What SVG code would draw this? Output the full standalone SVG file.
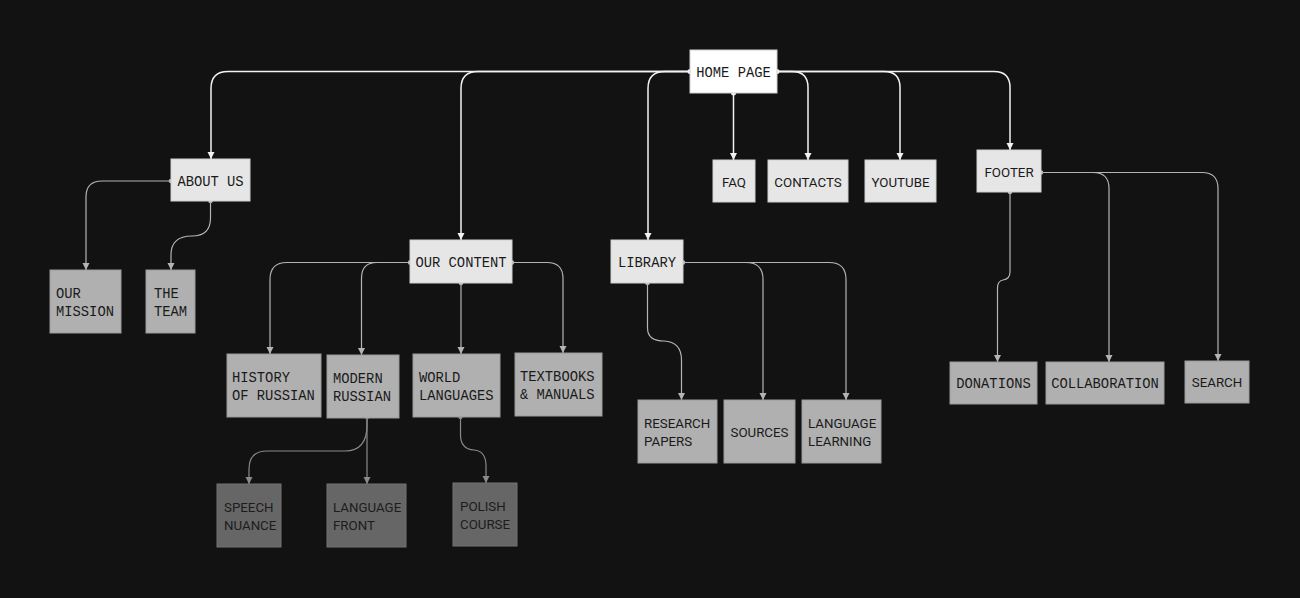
<svg xmlns="http://www.w3.org/2000/svg" width="1300" height="598" viewBox="0 0 1300 598">
<defs>
<marker id="aw" markerUnits="userSpaceOnUse" markerWidth="10" markerHeight="10" viewBox="-1 -5 10 10" refX="7" refY="0" orient="auto"><path d="M0,-3.5 L7,0 L0,3.5 z" fill="#f2f2f2"/></marker>
<marker id="ag" markerUnits="userSpaceOnUse" markerWidth="10" markerHeight="10" viewBox="-1 -5 10 10" refX="7" refY="0" orient="auto"><path d="M0,-3.5 L7,0 L0,3.5 z" fill="#b4b4b4"/></marker>
<marker id="ad" markerUnits="userSpaceOnUse" markerWidth="10" markerHeight="10" viewBox="-1 -5 10 10" refX="7" refY="0" orient="auto"><path d="M0,-3.5 L7,0 L0,3.5 z" fill="#8a8a8a"/></marker>
</defs>
<style>
.l0{fill:#ffffff;stroke:#d0d0d0;stroke-width:1}
.l1{fill:#e6e6e6;stroke:#cfcfcf;stroke-width:1}
.l2{fill:#b0b0b0;stroke:#9a9a9a;stroke-width:1}
.l3{fill:#666666;stroke:#737373;stroke-width:1}
.m{font-family:"Liberation Mono","DejaVu Sans Mono",monospace;font-size:13.8px;fill:#1a1a1a}
.s{font-family:Roboto,"Liberation Sans",Arial,sans-serif;font-size:13.3px;fill:#1a1a1a}
.d{fill:#1c1c1c}
.c{text-anchor:middle}
.cw{fill:none;stroke:#f2f2f2;stroke-width:1.5}
.cg{fill:none;stroke:#b4b4b4;stroke-width:1.2}
.cd{fill:none;stroke:#8a8a8a;stroke-width:1.2}
</style>
<rect width="1300" height="598" fill="#121212"/>
<g id="connectors">
<path class="cw" d="M690,71.5 H228 Q211,71.5 211,88.5 V159" marker-end="url(#aw)"/>
<path class="cw" d="M690,71.5 H478 Q461,71.5 461,88.5 V240" marker-end="url(#aw)"/>
<path class="cw" d="M690,71.5 H665 Q648,71.5 648,88.5 V240" marker-end="url(#aw)"/>
<path class="cw" d="M777,71.5 H792 Q808,71.5 808,87.5 V160" marker-end="url(#aw)"/>
<path class="cw" d="M777,71.5 H884 Q900,71.5 900,87.5 V160" marker-end="url(#aw)"/>
<path class="cw" d="M777,71.5 H994 Q1010,71.5 1010,87.5 V150" marker-end="url(#aw)"/>
<path class="cw" d="M733.5,93 V160" marker-end="url(#aw)"/>
<circle cx="690" cy="71.5" r="2.5" fill="#f2f2f2"/>
<circle cx="777" cy="71.5" r="2.5" fill="#f2f2f2"/>
<circle cx="733.5" cy="93" r="2.5" fill="#f2f2f2"/>

<path class="cg" d="M171,181 H102 Q86,181 86,197 V270" marker-end="url(#ag)"/>
<path class="cg" d="M210.5,201 V218 Q210.5,236 192,236 Q171,236 171,255 V270" marker-end="url(#ag)"/>
<circle cx="171" cy="181" r="2.3" fill="#b4b4b4"/>
<circle cx="210.5" cy="201" r="2.3" fill="#b4b4b4"/>

<path class="cg" d="M410,262.5 H287 Q270,262.5 270,279.5 V354" marker-end="url(#ag)"/>
<path class="cg" d="M410,262.5 H377 Q361.5,262.5 361.5,278 V355" marker-end="url(#ag)"/>
<path class="cg" d="M461,283 V354" marker-end="url(#ag)"/>
<path class="cg" d="M512,262.5 H547 Q563,262.5 563,278.5 V353" marker-end="url(#ag)"/>
<circle cx="410" cy="262.5" r="2.3" fill="#b4b4b4"/>
<circle cx="461" cy="283" r="2.3" fill="#b4b4b4"/>
<circle cx="512" cy="262.5" r="2.3" fill="#b4b4b4"/>

<path class="cg" d="M647.5,283 V328 Q647.5,341 664,341 Q681.5,342 681.5,360 V400" marker-end="url(#ag)"/>
<path class="cg" d="M683,262.5 H746 Q763,262.5 763,279.5 V400" marker-end="url(#ag)"/>
<path class="cg" d="M683,262.5 H829 Q846,262.5 846,279.5 V400" marker-end="url(#ag)"/>
<circle cx="647.5" cy="283" r="2.3" fill="#b4b4b4"/>
<circle cx="683" cy="262.5" r="2.3" fill="#b4b4b4"/>

<path class="cg" d="M1010,192 V272 Q1010,279 1003,280 Q997.5,281 997.5,288 V362" marker-end="url(#ag)"/>
<path class="cg" d="M1041,172.5 H1093 Q1109,172.5 1109,188.5 V362" marker-end="url(#ag)"/>
<path class="cg" d="M1041,172.5 H1202 Q1218,172.5 1218,188.5 V361" marker-end="url(#ag)"/>
<circle cx="1010" cy="192" r="2.3" fill="#b4b4b4"/>
<circle cx="1041" cy="172.5" r="2.3" fill="#b4b4b4"/>

<path class="cd" d="M367,417 V425 Q367,451 345,451 H267 Q249,451 249,469 V484" marker-end="url(#ad)"/>
<path class="cd" d="M367,417 V484" marker-end="url(#ad)"/>
<path class="cd" d="M460.5,417 V435 Q460.5,449 474,450 Q486,451 486,466 V483" marker-end="url(#ad)"/>
<circle cx="367" cy="417" r="2.2" fill="#8a8a8a"/>
<circle cx="460.5" cy="417" r="2.2" fill="#8a8a8a"/>
</g>

<g id="home-page"><rect class="l0" x="690" y="50" width="87" height="43"/><text class="m c" x="733.5" y="76.5">HOME PAGE</text></g>
<g id="about-us"><rect class="l1" x="171" y="159" width="79" height="42"/><text class="m c" x="210.5" y="186">ABOUT US</text></g>
<g id="our-mission"><rect class="l2" x="50" y="270" width="71" height="63"/><text class="m" x="56" y="298">OUR</text><text class="m" x="56" y="316">MISSION</text></g>
<g id="the-team"><rect class="l2" x="146" y="270" width="49" height="63"/><text class="m" x="154" y="298">THE</text><text class="m" x="154" y="316">TEAM</text></g>
<g id="our-content"><rect class="l1" x="410" y="240" width="102" height="43"/><text class="m c" x="461" y="267">OUR CONTENT</text></g>
<g id="library"><rect class="l1" x="611" y="240" width="72" height="43"/><text class="m c" x="647" y="267">LIBRARY</text></g>
<g id="faq"><rect class="l1" x="713" y="160" width="42" height="42"/><text class="s c" x="734" y="186.5">FAQ</text></g>
<g id="contacts"><rect class="l1" x="768" y="160" width="80" height="42"/><text class="s c" x="808" y="186.5">CONTACTS</text></g>
<g id="youtube"><rect class="l1" x="865" y="160" width="71" height="42"/><text class="s c" x="900.5" y="186.5">YOUTUBE</text></g>
<g id="footer"><rect class="l1" x="977" y="150" width="64" height="42"/><text class="s c" x="1009" y="176.5">FOOTER</text></g>
<g id="history-of-russian"><rect class="l2" x="227" y="354" width="94" height="63"/><text class="m" x="232" y="382">HISTORY</text><text class="m" x="232" y="400">OF RUSSIAN</text></g>
<g id="modern-russian"><rect class="l2" x="327" y="355" width="72" height="63"/><text class="m" x="333" y="383">MODERN</text><text class="m" x="333" y="401">RUSSIAN</text></g>
<g id="world-languages"><rect class="l2" x="413" y="354" width="87" height="63"/><text class="m" x="419" y="382">WORLD</text><text class="m" x="419" y="400">LANGUAGES</text></g>
<g id="textbooks-manuals"><rect class="l2" x="515" y="353" width="87" height="63"/><text class="m" x="520" y="381">TEXTBOOKS</text><text class="m" x="520" y="399">&amp; MANUALS</text></g>
<g id="speech-nuance"><rect class="l3" x="217" y="484" width="64" height="63"/><text class="s d" x="224" y="512">SPEECH</text><text class="s d" x="224" y="530">NUANCE</text></g>
<g id="language-front"><rect class="l3" x="327" y="484" width="79" height="63"/><text class="s d" x="333" y="512">LANGUAGE</text><text class="s d" x="333" y="530">FRONT</text></g>
<g id="polish-course"><rect class="l3" x="453" y="483" width="64" height="63"/><text class="s d" x="460" y="511">POLISH</text><text class="s d" x="460" y="529">COURSE</text></g>
<g id="research-papers"><rect class="l2" x="638" y="400" width="79" height="63"/><text class="s" x="644" y="428">RESEARCH</text><text class="s" x="644" y="446">PAPERS</text></g>
<g id="sources"><rect class="l2" x="724" y="400" width="71" height="63"/><text class="s c" x="759.5" y="437">SOURCES</text></g>
<g id="language-learning"><rect class="l2" x="802" y="400" width="79" height="63"/><text class="s" x="808" y="428">LANGUAGE</text><text class="s" x="808" y="446">LEARNING</text></g>
<g id="donations"><rect class="l2" x="950" y="362" width="87" height="42"/><text class="m c" x="993.5" y="388">DONATIONS</text></g>
<g id="collaboration"><rect class="l2" x="1046" y="362" width="118" height="42"/><text class="m c" x="1105" y="388">COLLABORATION</text></g>
<g id="search"><rect class="l2" x="1185" y="361" width="64" height="42"/><text class="s c" x="1217" y="387">SEARCH</text></g>
</svg>
